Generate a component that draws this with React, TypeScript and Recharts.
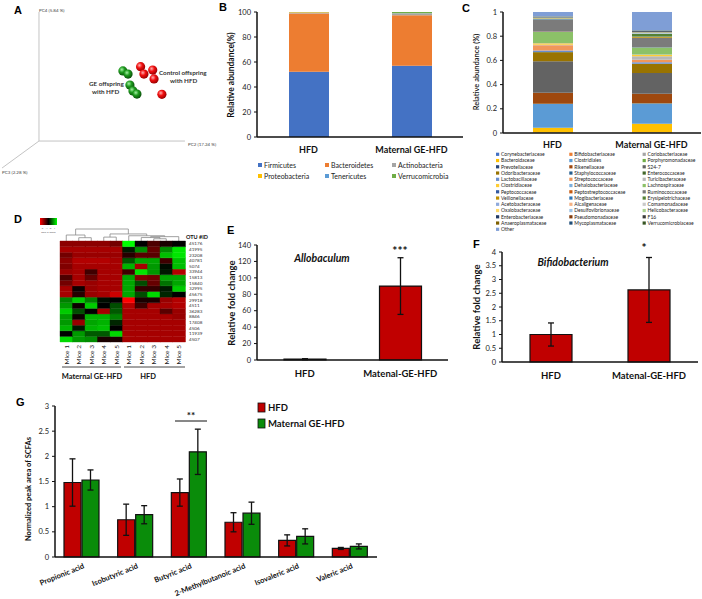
import React from "react";
import {
  BarChart, Bar, XAxis, YAxis, Cell, ErrorBar,
  ScatterChart, Scatter, ReferenceLine, LineChart, Line,
} from "recharts";

const FONT = "Lato, 'Liberation Sans', Arial, sans-serif";
const INK = "#111";

// ---- A: PCoA (PC2 across, PC4 up) ----
const gePC2 = [57.5, 61.0, 62.3, 64.4, 67.1];
const gePC4 = [54.3, 51.9, 43.4, 38.8, 36.4];
const ctrlPC2 = [69.6, 77.9, 71.9, 78.8, 84.2];
const ctrlPC4 = [57.6, 55.0, 51.9, 48.1, 36.2];

// ---- B: phylum level ----
const groups = ["HFD", "Maternal GE-HFD"];
const phyla = ["Firmicutes", "Bacteroidetes", "Actinobacteria", "Proteobacteria", "Tenericutes", "Verrucomicrobia"];
const phylaColors = ["#4472C4", "#ED7D31", "#A5A5A5", "#FFC000", "#5B9BD5", "#70AD47"];
const phylaHFD = [52.2, 46.7, 0.3, 0.6, 0.2, 0.0];
const phylaMaternal = [57.1, 40.3, 1.0, 0.5, 0.3, 0.8];

// ---- C: family level ----
const families = [
  "Corynebacteriaceae", "Bifidobacteriaceae", "Coriobacteriaceae",
  "Bacteroidaceae", "Clostridiales", "Porphyromonadaceae",
  "Prevotellaceae", "Rikenellaceae", "S24-7",
  "Odoribacteraceae", "Staphylococcaceae", "Enterococcaceae",
  "Lactobacillaceae", "Streptococcaceae", "Turicibacteraceae",
  "Clostridiaceae", "Dehalobacteriaceae", "Lachnospiraceae",
  "Peptococcaceae", "Peptostreptococcaceae", "Ruminococcaceae",
  "Veillonellaceae", "Mogibacteriaceae", "Erysipelotrichaceae",
  "Acetobacteraceae", "Alcaligenaceae", "Comamonadaceae",
  "Oxalobacteraceae", "Desulfovibrionaceae", "Helicobacteraceae",
  "Enterobacteriaceae", "Pseudomonadaceae", "F16",
  "Anaeroplasmataceae", "Mycoplasmataceae", "Verrucomicrobiaceae",
  "Other",
];
const familyColors = [
  "#4472C4", "#ED7D31", "#A5A5A5", "#FFC000", "#5B9BD5", "#70AD47",
  "#264478", "#9E480E", "#636363", "#997300", "#255E91", "#43682B",
  "#698ED0", "#F1975A", "#B7B7B7", "#FFCD33", "#7CAFDD", "#8CC168",
  "#335AA1", "#C55A11", "#7B7B7B", "#BF8F00", "#2E75B6", "#548235",
  "#8FAADC", "#F4B183", "#C9C9C9", "#FFD966", "#9DC3E6", "#A9D18E",
  "#203864", "#843C0C", "#3A3A3A", "#7F6000", "#1F4E79", "#375623",
  "#7F9ED6",
];
const familyHFD = [
  0.002, 0.001, 0.001, 0.04, 0.195, 0.002, 0.001, 0.09, 0.26, 0.075, 0.001, 0.001,
  0.012, 0.045, 0.003, 0.012, 0.002, 0.092, 0.002, 0.001, 0.098, 0.001, 0.006, 0.003,
  0.001, 0.001, 0.001, 0.001, 0.003, 0.002, 0.001, 0.001, 0.002, 0.001, 0.001, 0.001,
  0.038,
];
const familyMaternal = [
  0.002, 0.003, 0.002, 0.07, 0.165, 0.002, 0.001, 0.08, 0.17, 0.075, 0.001, 0.001,
  0.012, 0.022, 0.028, 0.012, 0.002, 0.058, 0.002, 0.001, 0.078, 0.008, 0.002, 0.024,
  0.001, 0.001, 0.001, 0.001, 0.003, 0.004, 0.001, 0.001, 0.006, 0.001, 0.001, 0.006,
  0.152,
];

// ---- D: heatmap (row z-scores) ----
const mice = ["Mice 1", "Mice 2", "Mice 3", "Mice 4", "Mice 5", "Mice 1", "Mice 2", "Mice 3", "Mice 4", "Mice 5"];
const otuIds = ["45176", "41995", "23208", "40781", "5074", "33944", "15813", "15840", "32995", "45675",
  "29918", "4511", "36283", "8846", "17408", "4506", "11939", "4507"];
const heatZ = [
  [-1.1, -1.1, -1.1, -1.1, -0.9, 2.0, 0.0, -0.6, -0.2, 0.0],
  [-1.3, -1.3, -1.3, -1.3, -1.3, 0.2, 1.1, -0.8, 1.1, 1.8],
  [-0.9, -1.2, -1.2, -1.2, -1.2, -0.3, -0.7, -0.7, 1.5, 1.8],
  [-1.1, -1.4, -1.4, -1.4, -1.3, 0.7, 1.3, 1.3, -0.5, 1.5],
  [-1.0, -1.3, -1.3, -1.3, -1.3, 1.4, -1.3, 1.2, 0.1, 1.5],
  [-1.2, -1.3, -0.5, -1.3, -1.3, -0.5, 1.8, 1.2, 0.2, -1.4],
  [-0.6, -1.3, -0.8, -1.3, -1.3, 1.3, -1.0, -0.9, 1.3, 1.3],
  [-0.9, -1.3, -1.2, -1.3, -1.3, 1.3, 0.6, -0.8, 0.9, 1.3],
  [-1.3, -0.1, -1.2, -1.3, -1.3, 1.3, -0.4, -0.4, 0.2, 1.6],
  [-1.3, -0.3, -1.2, -1.3, -1.6, 1.3, 0.6, 1.7, 0.3, 0.0],
  [1.0, 1.6, 1.0, 0.1, 0.0, -2.0, -0.2, -0.2, -1.2, -1.4],
  [1.2, -0.1, 1.6, 0.0, 0.6, -1.4, -0.5, -1.3, -1.3, -1.4],
  [1.6, 0.6, 0.0, -1.3, 0.7, -1.3, -1.3, -1.3, -0.7, -1.2],
  [1.2, -0.1, 1.4, 1.4, 1.0, -1.3, -1.3, -1.3, -1.3, -1.2],
  [1.2, -1.2, 1.3, 1.4, 0.3, -1.3, -1.3, -1.3, -1.3, -1.3],
  [1.4, 0.2, 1.4, 1.5, 0.0, -1.3, -1.3, -1.3, -1.3, -1.3],
  [0.0, 1.2, 0.7, 0.7, 1.7, -1.3, -1.3, -1.3, -1.3, -1.3],
  [1.7, 1.2, 1.1, -0.2, -0.2, -1.3, -1.3, -1.3, -1.3, -1.3],
];
// sample clustering: [left node, right node, height]; nodes 0-9 are columns, 10+ are merges
const dendroMerges = [
  [1, 2, 2.2], [0, 10, 4], [3, 4, 2.6], [7, 8, 1.5], [6, 13, 2.3],
  [14, 9, 2.9], [5, 15, 3.5], [12, 16, 4.7], [11, 17, 8],
];

// ---- E / F: qPCR fold change ----
const foldGroups = ["HFD", "Matenal-GE-HFD"];
const allobaculumFold = [1, 90];
const allobaculumErr = [0.6, 34.5];
const bifidoFold = [1.0, 2.62];
const bifidoErr = [0.42, 1.18];

// ---- G: SCFAs ----
const acids = ["Propionic acid", "Isobutyric acid", "Butyric acid", "2-Methylbutanoic acid", "Isovaleric acid", "Valeric acid"];
const scfaHFD = [1.48, 0.74, 1.28, 0.69, 0.33, 0.17];
const scfaHFDErr = [0.47, 0.31, 0.27, 0.19, 0.11, 0.02];
const scfaMaternal = [1.53, 0.84, 2.09, 0.87, 0.41, 0.21];
const scfaMaternalErr = [0.2, 0.18, 0.45, 0.22, 0.15, 0.05];

const RED = "#C00000";
const GREEN = "#0A8C0A";

function zColor(z: number) {
  const v = Math.round(255 * Math.min(Math.abs(z) / 2, 1));
  return z < 0 ? `rgb(${v},0,0)` : `rgb(0,${v},0)`;
}

const axisStroke = { stroke: INK, strokeWidth: 1.5 };
const tickText = { fontSize: 7.5, fill: "#222" };
const catText = { fontSize: 9, fill: "#111", fontWeight: 700 };

function sphere(grad: string) {
  return (p: any) => <circle cx={p.cx} cy={p.cy} r={4.6} fill={`url(#${grad})`} />;
}

function PanelA() {
  const ge = gePC2.map((x, i) => ({ x, y: gePC4[i] }));
  const ctrl = ctrlPC2.map((x, i) => ({ x, y: ctrlPC4[i] }));
  const frame = "#c4c4c4";
  return (
    <ScatterChart width={240} height={200} margin={{ top: 0, right: 0, bottom: 0, left: 0 }}>
      <defs>
        <radialGradient id="sphG" cx="38%" cy="35%" r="65%">
          <stop offset="0%" stopColor="#a6f0a6" />
          <stop offset="45%" stopColor="#1f9c1f" />
          <stop offset="100%" stopColor="#0a500a" />
        </radialGradient>
        <radialGradient id="sphR" cx="38%" cy="35%" r="65%">
          <stop offset="0%" stopColor="#ffb0b0" />
          <stop offset="45%" stopColor="#f21010" />
          <stop offset="100%" stopColor="#9a0000" />
        </radialGradient>
      </defs>
      <XAxis type="number" dataKey="x" domain={[-26.7, 137.7]} hide allowDataOverflow />
      <YAxis type="number" dataKey="y" domain={[-45.7, 109.3]} hide allowDataOverflow />
      <ReferenceLine segment={[{ x: 0, y: 0 }, { x: 0, y: 100 }]} stroke={frame} />
      <ReferenceLine segment={[{ x: 0, y: 0 }, { x: 100, y: 0 }]} stroke={frame} />
      <ReferenceLine segment={[{ x: 0, y: 0 }, { x: -25.3, y: -20.9 }]} stroke={frame} />
      <Scatter data={ge} shape={sphere("sphG")} isAnimationActive={false} />
      <Scatter data={ctrl} shape={sphere("sphR")} isAnimationActive={false} />
    </ScatterChart>
  );
}

// category axis + tick marks at the category boundaries (as in Excel)
function catAxes(tickMargin: number, tick: any) {
  return [
    <XAxis key="cat" xAxisId="cat" dataKey="group" height={1} axisLine={axisStroke} tickLine={false} tickSize={6} tickMargin={tickMargin} tick={tick} interval={0} />,
    <XAxis key="edge" xAxisId="edge" type="number" domain={[0, 2]} ticks={[0, 1, 2]} height={1} axisLine={false} tick={false} tickLine={{ stroke: INK, strokeWidth: 1.2 }} tickSize={4} />,
  ];
}

function PanelB() {
  const split = [phylaHFD, phylaMaternal];
  const data = groups.map((g, i) => {
    const row: any = { group: g };
    phyla.forEach((p, j) => (row[p] = split[i][j]));
    return row;
  });
  return (
    <BarChart width={240} height={200} data={data} margin={{ top: 12, right: 7, bottom: 61, left: 0 }} barSize={40}>
      {catAxes(4, catText)}
      <YAxis domain={[0, 100]} ticks={[0, 20, 40, 60, 80, 100]} width={27} axisLine={axisStroke} tickLine={{ stroke: INK }} tickSize={3} tickMargin={3} tick={tickText} />
      {phyla.map((p, j) => (
        <Bar key={p} xAxisId="cat" dataKey={p} stackId="s" fill={phylaColors[j]} isAnimationActive={false} />
      ))}
    </BarChart>
  );
}

function PanelC() {
  const split = [familyHFD, familyMaternal];
  const data = groups.map((g, i) => {
    const row: any = { group: g };
    families.forEach((f, j) => (row[f] = split[i][j]));
    return row;
  });
  return (
    <BarChart width={232} height={200} data={data} margin={{ top: 12, right: 1, bottom: 65, left: 0 }} barSize={40}>
      {catAxes(3, catText)}
      <YAxis domain={[0, 1]} ticks={[0, 0.2, 0.4, 0.6, 0.8, 1]} width={33} axisLine={axisStroke} tickLine={{ stroke: INK }} tickSize={3} tickMargin={3} tick={tickText} />
      {families.map((f, j) => (
        <Bar key={f} xAxisId="cat" dataKey={f} stackId="s" fill={familyColors[j]} isAnimationActive={false} />
      ))}
    </BarChart>
  );
}

function MiceTick(p: any) {
  return (
    <text x={p.x} y={p.y} transform={`rotate(-90 ${p.x} ${p.y})`} textAnchor="end" dominantBaseline="central" fontSize={6.5} fill="#222">
      {p.payload.value}
    </text>
  );
}

function PanelDHeat() {
  const data = mice.map((m, c) => {
    const row: any = { mouse: m, col: c };
    otuIds.forEach((id) => (row[id] = 1));
    return row;
  });
  const rowsBottomUp = otuIds.map((id, r) => ({ id, r })).reverse();
  return (
    <BarChart width={220} height={200} data={data} margin={{ top: 41, right: 0, bottom: 57, left: 60 }} barCategoryGap={0} barGap={0}>
      <XAxis dataKey="mouse" height={1} axisLine={false} tickLine={false} tickSize={0} tickMargin={3} tick={<MiceTick />} interval={0} />
      <YAxis orientation="right" type="number" domain={[0, 18]} width={35} ticks={otuIds.map((_, i) => 17.5 - i)}
        tickFormatter={(v: number) => otuIds[Math.round(17.5 - v)]} interval={0}
        axisLine={false} tickLine={false} tickSize={0} tickMargin={4} tick={{ fontSize: 4.6, fill: "#333" }} />
      {rowsBottomUp.map(({ id, r }) => (
        <Bar key={id} dataKey={id} stackId="h" isAnimationActive={false}>
          {data.map((_, c) => (
            <Cell key={c} fill={zColor(heatZ[r][c])} stroke={zColor(heatZ[r][c])} strokeWidth={0.4} />
          ))}
        </Bar>
      ))}
    </BarChart>
  );
}

function PanelDTree() {
  const xs: number[] = mice.map((_, i) => i + 0.5);
  const hs: number[] = mice.map(() => 0);
  const segs = dendroMerges.map(([a, b, h]) => {
    const seg = [
      { x: xs[a], h: hs[a] }, { x: xs[a], h }, { x: xs[b], h }, { x: xs[b], h: hs[b] },
    ];
    xs.push((xs[a] + xs[b]) / 2);
    hs.push(h);
    return seg;
  });
  return (
    <LineChart width={220} height={42} margin={{ top: 29, right: 35, bottom: 1, left: 60 }}>
      <XAxis type="number" dataKey="x" domain={[0, 10]} hide />
      <YAxis type="number" domain={[0, 8]} hide />
      {segs.map((s, i) => (
        <Line key={i} data={s} dataKey="h" stroke="#8a8a8a" strokeWidth={0.8} dot={false} isAnimationActive={false} />
      ))}
    </LineChart>
  );
}

function FoldChart({ mean, err, yMax, ticks, w, h, yW, margin, barSize }: any) {
  const data = foldGroups.map((g, i) => ({ group: g, v: mean[i], err: err[i] }));
  return (
    <BarChart width={w} height={h} data={data} margin={margin} barSize={barSize}>
      {catAxes(4, { ...catText, fontSize: 9.5 })}
      <YAxis domain={[0, yMax]} ticks={ticks} width={yW} axisLine={axisStroke} tickLine={{ stroke: INK }} tickSize={3} tickMargin={3} tick={tickText} interval={0} />
      <Bar xAxisId="cat" dataKey="v" fill={RED} stroke={INK} strokeWidth={1.2} isAnimationActive={false}>
        <ErrorBar dataKey="err" width={3} stroke={INK} strokeWidth={1.3} direction="y" />
      </Bar>
    </BarChart>
  );
}

function AcidTick(p: any) {
  const x = p.x + 3;
  const y = p.y + 11;
  return (
    <text x={x} y={y} transform={`rotate(-22 ${x} ${y})`} textAnchor="end" fontSize={7.5} fontWeight={700} fill="#111">
      {p.payload.value}
    </text>
  );
}

function PanelG() {
  const data = acids.map((a, i) => ({
    acid: a, hfd: scfaHFD[i], hfdErr: scfaHFDErr[i], mat: scfaMaternal[i], matErr: scfaMaternalErr[i],
  }));
  return (
    <BarChart width={400} height={199} data={data} margin={{ top: 6, right: 23, bottom: 41, left: 0 }} barSize={17} barGap={1}>
      <XAxis dataKey="acid" height={1} axisLine={axisStroke} tickLine={false} tickSize={0} tickMargin={0} tick={<AcidTick />} interval={0} />
      <YAxis domain={[0, 3]} ticks={[0, 0.5, 1, 1.5, 2, 2.5, 3]} width={55} axisLine={axisStroke} tickLine={{ stroke: INK }} tickSize={3} tickMargin={3} tick={tickText} interval={0} />
      <Bar dataKey="hfd" fill={RED} stroke={INK} strokeWidth={1.2} isAnimationActive={false}>
        <ErrorBar dataKey="hfdErr" width={3} stroke={INK} strokeWidth={1.3} direction="y" />
      </Bar>
      <Bar dataKey="mat" fill={GREEN} stroke={INK} strokeWidth={1.2} isAnimationActive={false}>
        <ErrorBar dataKey="matErr" width={3} stroke={INK} strokeWidth={1.3} direction="y" />
      </Bar>
    </BarChart>
  );
}

function Overlay() {
  const letter = { fontSize: 11, fontWeight: 700, fill: "#000", fontFamily: "Arial, 'Liberation Sans', sans-serif" } as any;
  const bold = (s: number) => ({ fontSize: s, fontWeight: 700, fill: "#111" } as any);
  return (
    <svg width={702} height={599} style={{ position: "absolute", left: 0, top: 0, pointerEvents: "none" }}>
      <defs>
        <linearGradient id="zkey" x1="0" x2="1" y1="0" y2="0">
          <stop offset="0%" stopColor="#ff0000" />
          <stop offset="50%" stopColor="#000" />
          <stop offset="100%" stopColor="#00ff00" />
        </linearGradient>
      </defs>
      <text x={14} y={14} {...letter}>A</text>
      <text x={219} y={11} {...letter}>B</text>
      <text x={462} y={12} {...letter}>C</text>
      <text x={14} y={223} {...letter}>D</text>
      <text x={227} y={234} {...letter}>E</text>
      <text x={473} y={248} {...letter}>F</text>
      <text x={16} y={406} {...letter}>G</text>

      {/* A */}
      <g fontSize={4.5} fill="#444">
        <text x={39} y={12}>PC4 (5.84 %)</text>
        <text x={188} y={146}>PC2 (17.24 %)</text>
        <text x={2} y={174}>PC3 (2.28 %)</text>
      </g>
      <g {...bold(6.3)} fill="#333">
        <text x={159} y={75}>Control offspring</text>
        <text x={170} y={83}>with HFD</text>
        <text x={89} y={86}>GE offspring</text>
        <text x={92} y={94}>with HFD</text>
      </g>

      {/* B */}
      <text transform="translate(234 75) rotate(-90)" textAnchor="middle" {...bold(8.5)}>Relative abundance(%)</text>
      {phyla.map((p, k) => {
        const x = 258 + (k % 3) * 67;
        const y = 165 + Math.floor(k / 3) * 11;
        return (
          <g key={p}>
            <rect x={x} y={y - 2} width={4} height={4} fill={phylaColors[k]} />
            <text x={x + 6} y={y + 2.5} fontSize={7} fill="#222">{p}</text>
          </g>
        );
      })}

      {/* C */}
      <text transform="translate(479 72) rotate(-90)" textAnchor="middle" fontSize={7.5} fontWeight={600} fill="#111">Relative abundance (%)</text>
      {families.map((f, k) => {
        const x = 496 + (k % 3) * 73.3;
        const y = 154.3 + Math.floor(k / 3) * 6.25;
        return (
          <g key={f}>
            <rect x={x} y={y - 1.6} width={3.2} height={3.2} fill={familyColors[k]} />
            <text x={x + 5} y={y + 1.8} fontSize={5} fill="#222">{f}</text>
          </g>
        );
      })}

      {/* D */}
      <rect x={40} y={218} width={17} height={7} fill="url(#zkey)" />
      <g fontSize={2.6} fill="#555" textAnchor="middle">
        <text x={42} y={229}>-2</text>
        <text x={46.5} y={229}>-1</text>
        <text x={50.5} y={229}>0</text>
        <text x={54.5} y={229}>1</text>
        <text x={48.5} y={232.5}>Row Z-Score</text>
      </g>
      <text x={186} y={239} {...bold(5.5)}>OTU #ID</text>
      <line x1={62} x2={121} y1={367} y2={367} stroke="#333" strokeWidth={0.9} />
      <line x1={124} x2={185} y1={367} y2={367} stroke="#333" strokeWidth={0.9} />
      <text x={92} y={379} textAnchor="middle" {...bold(7.5)}>Maternal GE-HFD</text>
      <text x={148} y={379} textAnchor="middle" {...bold(7.5)}>HFD</text>

      {/* E */}
      <text x={322} y={262} textAnchor="middle" fontStyle="italic" {...bold(10.5)}>Allobaculum</text>
      <text transform="translate(235 303) rotate(-90)" textAnchor="middle" {...bold(9.5)}>Relative fold change</text>
      <text x={400} y={255} textAnchor="middle" {...bold(12)}>***</text>

      {/* F */}
      <text x={573} y={266} textAnchor="middle" fontStyle="italic" {...bold(10.5)}>Bifidobacterium</text>
      <text transform="translate(480 307) rotate(-90)" textAnchor="middle" {...bold(9.5)}>Relative fold change</text>
      <text x={644} y={252} textAnchor="middle" {...bold(12)}>*</text>

      {/* G */}
      <text transform="translate(31 489) rotate(-90)" textAnchor="middle" {...bold(7.5)}>Normalized peak area of SCFAs</text>
      <text x={191} y={419} textAnchor="middle" {...bold(10)}>**</text>
      <line x1={175} x2={207} y1={421} y2={421} stroke="#111" strokeWidth={1} />
      <rect x={258} y={403} width={7} height={9} fill={RED} stroke="#111" strokeWidth={0.8} />
      <text x={268} y={411} {...bold(9.5)}>HFD</text>
      <rect x={258} y={419} width={7} height={9} fill={GREEN} stroke="#111" strokeWidth={0.8} />
      <text x={268} y={427} {...bold(9.5)}>Maternal GE-HFD</text>
    </svg>
  );
}

export default function App() {
  return (
    <div style={{ position: "absolute", left: 0, top: 0, width: 702, height: 599, background: "#fff", fontFamily: FONT, overflow: "hidden" }}>
      <div style={{ position: "absolute", left: 0, top: 0 }}><PanelA /></div>
      <div style={{ position: "absolute", left: 230, top: 0 }}><PanelB /></div>
      <div style={{ position: "absolute", left: 470, top: 0 }}><PanelC /></div>
      <div style={{ position: "absolute", left: 0, top: 200 }}><PanelDTree /></div>
      <div style={{ position: "absolute", left: 0, top: 200 }}><PanelDHeat /></div>
      <div style={{ position: "absolute", left: 200, top: 200 }}>
        <FoldChart mean={allobaculumFold} err={allobaculumErr} yMax={140} ticks={[0, 20, 40, 60, 80, 100, 120, 140]}
          w={250} h={200} yW={57} margin={{ top: 45, right: 2, bottom: 38, left: 0 }} barSize={42} />
      </div>
      <div style={{ position: "absolute", left: 450, top: 200 }}>
        <FoldChart mean={bifidoFold} err={bifidoErr} yMax={4} ticks={[0, 0.5, 1, 1.5, 2, 2.5, 3, 3.5, 4]}
          w={252} h={200} yW={52} margin={{ top: 52, right: 4, bottom: 36, left: 0 }} barSize={42} />
      </div>
      <div style={{ position: "absolute", left: 0, top: 400 }}><PanelG /></div>
      <Overlay />
    </div>
  );
}
